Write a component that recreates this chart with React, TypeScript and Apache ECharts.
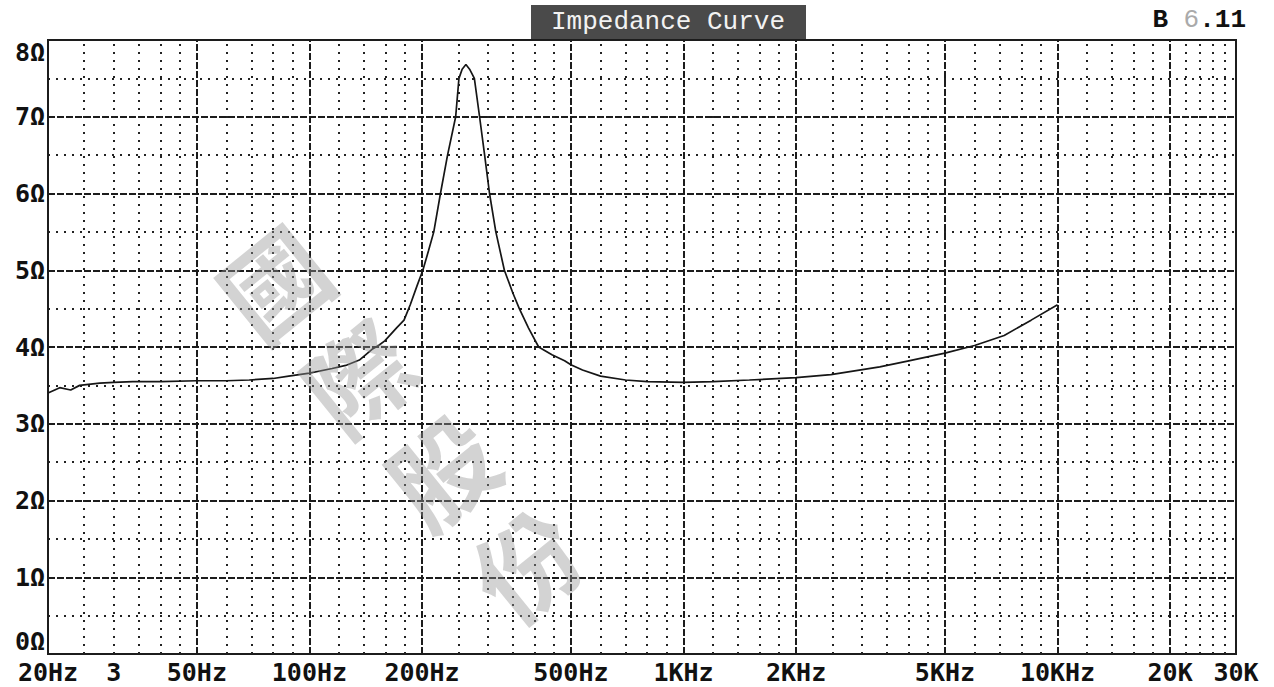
import React, { useEffect, useRef } from "react";
import * as echarts from "echarts";

// Impedance curve (frequency in Hz, impedance in ohms)
const freqs = [
  20, 21.5, 23, 24.3, 27.5, 30, 33.7, 40, 50, 60, 69, 80, 88, 100, 115, 125,
  136, 147, 153, 159, 171, 179, 186, 194, 201, 208, 215, 224, 234, 246, 251,
  256, 262, 268, 276, 285, 294, 303, 315, 332, 350, 364, 385, 410, 445, 481,
  500, 537, 600, 700, 800, 1000, 1200, 1500, 2000, 2478, 3348, 4000, 5000,
  6000, 7200, 8500, 10000,
];
const impedance = [
  3.4, 3.47, 3.44, 3.5, 3.53, 3.54, 3.55, 3.55, 3.56, 3.56, 3.57, 3.59, 3.62,
  3.66, 3.72, 3.76, 3.83, 3.97, 4.02, 4.08, 4.25, 4.35, 4.55, 4.8, 5.0, 5.25,
  5.5, 6.0, 6.5, 7.0, 7.5, 7.62, 7.68, 7.62, 7.5, 7.0, 6.5, 6.0, 5.5, 5.0,
  4.7, 4.5, 4.25, 4.0, 3.9, 3.82, 3.77, 3.7, 3.62, 3.57, 3.55, 3.54, 3.55,
  3.57, 3.6, 3.64, 3.74, 3.82, 3.92, 4.02, 4.15, 4.35, 4.55,
];

const majorFreqs = [50, 100, 200, 500, 1000, 2000, 5000, 10000, 20000];
const minorFreqs = [
  25, 30, 35, 40, 45, 60, 70, 80, 90, 120, 140, 160, 180, 250, 300, 350, 400,
  450, 600, 700, 800, 900, 1200, 1400, 1600, 1800, 2500, 3000, 3500, 4000,
  4500, 6000, 7000, 8000, 9000, 12000, 14000, 16000, 18000, 22000, 24000,
  26000, 28000,
];

const xLabelValues = [20, 30, 50, 100, 200, 500, 1000, 2000, 5000, 10000, 20000, 30000];
const xLabelTexts = ["20Hz", "3", "50Hz", "100Hz", "200Hz", "500Hz", "1KHz", "2KHz", "5KHz", "10KHz", "20K", "30K"];

const watermarkChars = ["國", "際", "股", "份"];

const title = "Impedance Curve";

const INK = "#1c1c1c";
const MONO = "'DejaVu Sans Mono', 'Liberation Mono', monospace";

export default function App() {
  const ref = useRef<HTMLDivElement>(null);

  useEffect(() => {
    document.body.style.margin = "0";
    const chart = echarts.init(ref.current!, null, { renderer: "svg" });

    const fmtX = (v: number) => {
      let best = 0;
      let bd = Infinity;
      xLabelValues.forEach((x, i) => {
        const d = Math.abs(Math.log10(x) - Math.log10(v));
        if (d < bd) {
          bd = d;
          best = i;
        }
      });
      return bd < 0.01 ? xLabelTexts[best] : "";
    };

    const wmStart = [272, 280];
    const wmStep = [84, 94];

    chart.setOption({
      animation: false,
      backgroundColor: "#ffffff",
      grid: {
        left: 48,
        right: 38,
        top: 40,
        bottom: 33,
        show: true,
        borderColor: INK,
        borderWidth: 2,
        backgroundColor: "transparent",
      },
      xAxis: {
        type: "log",
        logBase: 10,
        min: 20,
        max: 30000,
        axisLine: { show: true, lineStyle: { color: INK, width: 2 } },
        axisTick: { show: false },
        splitLine: { show: false },
        minorSplitLine: { show: false },
        axisLabel: {
          customValues: xLabelValues,
          formatter: (v: number) => fmtX(v),
          color: "#111",
          fontFamily: MONO,
          fontWeight: "bold",
          fontSize: 25,
          margin: 6,
          showMinLabel: true,
          showMaxLabel: true,
        },
      },
      yAxis: {
        type: "value",
        min: 0,
        max: 8,
        interval: 1,
        axisLine: { show: true, lineStyle: { color: INK, width: 2 } },
        axisTick: { show: false },
        minorTick: { show: false, splitNumber: 2 },
        splitLine: {
          show: true,
          lineStyle: { color: INK, width: 2, type: [7, 2] },
        },
        minorSplitLine: {
          show: true,
          lineStyle: { color: "#222", width: 2, type: [2, 6] },
        },
        axisLabel: {
          formatter: "{value}Ω",
          color: "#111",
          fontFamily: MONO,
          fontWeight: "bold",
          fontSize: 25,
          margin: 3,
          verticalAlignMinLabel: "bottom",
          verticalAlignMaxLabel: "top",
        },
      },
      series: [
        {
          name: "minorGrid",
          type: "line",
          data: [],
          silent: true,
          z: 1,
          markLine: {
            silent: true,
            symbol: "none",
            label: { show: false },
            lineStyle: { color: "#222", width: 2, type: [2, 6] },
            data: minorFreqs.map((f) => ({ xAxis: f })),
          },
        },
        {
          name: "majorGrid",
          type: "line",
          data: [],
          silent: true,
          z: 2,
          markLine: {
            silent: true,
            symbol: "none",
            label: { show: false },
            lineStyle: { color: INK, width: 2, type: [7, 2] },
            data: majorFreqs.map((f) => ({ xAxis: f })),
          },
        },
        {
          name: "Impedance",
          type: "line",
          z: 5,
          showSymbol: false,
          smooth: false,
          lineStyle: { color: "#161616", width: 1.7 },
          data: freqs.map((f, i) => [f, impedance[i]]),
        },
      ],
      graphic: [
        ...watermarkChars.map((c, i) => ({
          type: "text",
          silent: true,
          z: 100,
          x: wmStart[0] + wmStep[0] * i,
          y: wmStart[1] + wmStep[1] * i,
          rotation: 0.68,
          style: {
            text: c,
            fill: "rgba(150,150,150,0.42)",
            font: "bold 104px 'Noto Sans CJK TC', sans-serif",
            align: "center",
            verticalAlign: "middle",
          },
        })),
        {
          type: "rect",
          z: 110,
          shape: { x: 531, y: 5, width: 275, height: 34 },
          style: { fill: "#4a4a4a" },
        },
        {
          type: "text",
          z: 111,
          x: 668,
          y: 22,
          style: {
            text: title,
            fill: "#f2f2f2",
            font: "26px 'Liberation Mono', monospace",
            align: "center",
            verticalAlign: "middle",
          },
        },
        {
          type: "text",
          z: 111,
          x: 1246,
          y: 20,
          style: {
            text: "{a|B }{b|6}{a|.11}",
            align: "right",
            verticalAlign: "middle",
            rich: {
              a: { fill: "#111", font: "bold 26px 'Liberation Mono', monospace" },
              b: { fill: "#aaaaaa", font: "26px 'Liberation Mono', monospace" },
            },
          },
        },
      ],
    });

    return () => chart.dispose();
  }, []);

  return (
    <div
      ref={ref}
      style={{ position: "absolute", left: 0, top: 0, width: 1274, height: 687 }}
    />
  );
}
